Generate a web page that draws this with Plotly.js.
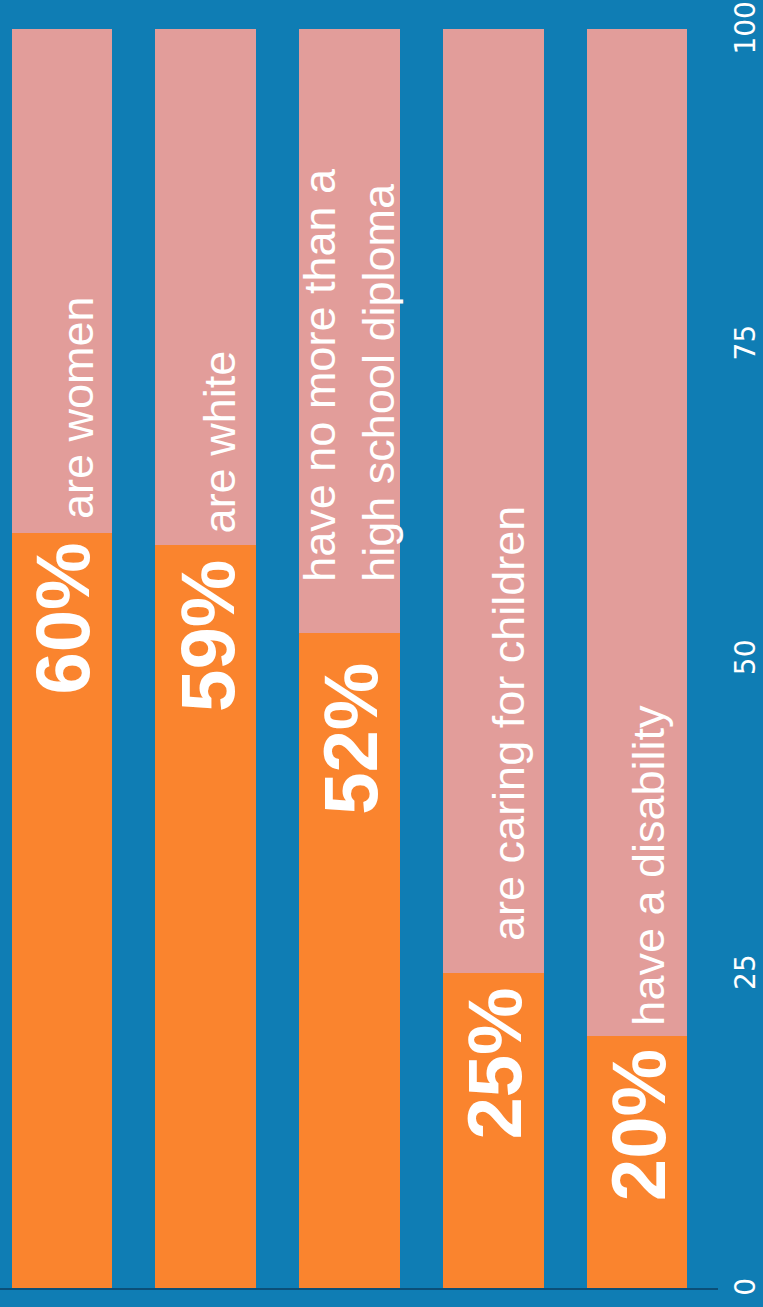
<!DOCTYPE html>
<html>
<head>
<meta charset="utf-8">
<script src="https://cdn.plot.ly/plotly-3.0.1.min.js"></script>
<style>
  html, body { margin: 0; padding: 0; background: #0f7db4; }
  #chart { width: 763px; height: 1307px; }
</style>
</head>
<body>
<div id="chart"></div>
<script>
// share of group, percent
var groups = [0, 1, 2, 3, 4]
var shares = [60, 59, 52, 25, 20]
var pctLabels = ['60%', '59%', '52%', '25%', '20%']
var descLabels = ['are women', 'are white', 'have no more than a<br>high school diploma',
                  'are caring for children', 'have a disability']
var tickVals = [0, 25, 50, 75, 100]
var tickText = ['0', '25', '50', '75', '100']

// rest of the bar up to 100
var rest = []
for (var i = 0; i < shares.length; i++) {
    rest[i] = 100 - shares[i]
}

// nudges for the labels (px), the picture is not perfectly regular
var pctGap = [8, 13, 27, 12, 11]
var descGap = [12, 10, 50, 30, 9]
var descShift = [15, 14, 0, 16, 12]

var orange = '#fa842e'
var pink = '#e29d9a'
var blue = '#0f7db4'

var data0 = [
    {x: groups, y: shares, type: 'bar', marker: {color: orange}, width: 0.70, hoverinfo: 'none'},
    {x: groups, y: rest, type: 'bar', marker: {color: pink}, width: 0.70, hoverinfo: 'none'}
];

var anns = []
for (var i = 0; i < groups.length; i++) {
    anns.push({
        x: groups[i], y: shares[i], xref: 'x', yref: 'y',
        text: '<b>' + pctLabels[i] + '</b>', showarrow: false,
        textangle: -90, xanchor: 'center', yanchor: 'top',
        yshift: -pctGap[i], xshift: 1,
        font: {family: 'Liberation Sans, Arial, sans-serif', size: 76, color: '#ffffff'}
    });
    anns.push({
        x: groups[i], y: shares[i], xref: 'x', yref: 'y',
        text: descLabels[i], showarrow: false, align: 'left',
        textangle: -90, xanchor: 'center', yanchor: 'bottom',
        yshift: descGap[i], xshift: descShift[i],
        font: {family: 'Liberation Sans, Arial, sans-serif', size: 45, color: '#ffffff'}
    });
}

var layout1 = {
    width: 763, height: 1307,
    margin: {l: 0, r: 45, t: 29, b: 19},
    paper_bgcolor: blue,
    plot_bgcolor: blue,
    barmode: 'stack',
    showlegend: false,
    xaxis: {
        range: [-0.431, 4.564], showgrid: false, zeroline: false,
        showticklabels: false, ticks: '',
        showline: true, linecolor: '#0b4f78', linewidth: 2
    },
    yaxis: {
        range: [0, 100], side: 'right', showgrid: false, zeroline: false,
        tickvals: tickVals, ticktext: tickText, tickangle: -90, ticks: '',
        ticklabeloverflow: 'allow', ticklabelstandoff: 8, ticklabelshift: 3,
        tickfont: {family: 'DejaVu Sans, sans-serif', size: 28, color: '#ffffff'}
    },
    annotations: anns
};

var TESTER = document.getElementById('chart');
Plotly.newPlot(TESTER, data0, layout1, {staticPlot: true});
</script>
</body>
</html>
